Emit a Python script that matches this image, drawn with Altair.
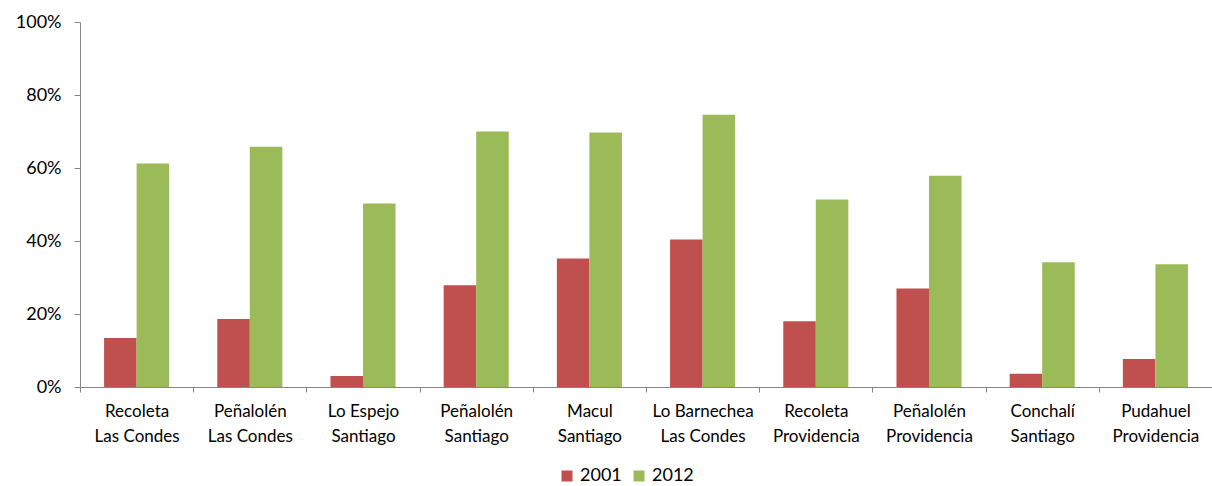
import altair as alt
import pandas as pd

# Commune pairs and share (%) for each year
categories = [
    "Recoleta\nLas Condes",
    "Peñalolén\nLas Condes",
    "Lo Espejo\nSantiago",
    "Peñalolén\nSantiago",
    "Macul\nSantiago",
    "Lo Barnechea\nLas Condes",
    "Recoleta\nProvidencia",
    "Peñalolén\nProvidencia",
    "Conchalí\nSantiago",
    "Pudahuel\nProvidencia",
]
v2001 = [13.4, 18.6, 3.0, 27.9, 35.2, 40.4, 18.0, 27.0, 3.6, 7.7]
v2012 = [61.2, 65.8, 50.3, 70.0, 69.7, 74.6, 51.4, 57.9, 34.2, 33.6]
years = ["2001", "2012"]
colors = ["#C0504D", "#9BBB59"]

rows = []
for cat, a, b in zip(categories, v2001, v2012):
    rows.append({"par": cat, "year": years[0], "value": a / 100})
    rows.append({"par": cat, "year": years[1], "value": b / 100})
df = pd.DataFrame(rows)

FONT = "Lato"
AXIS_COLOR = "#868686"

chart = (
    alt.Chart(df)
    .mark_bar()
    .encode(
        x=alt.X(
            "par:N",
            sort=categories,
            scale=alt.Scale(paddingInner=0, paddingOuter=0),
            axis=alt.Axis(
                title=None,
                labelAngle=0,
                labelExpr="split(datum.label, '\\n')",
                labelLineHeight=25,
                labelFontSize=17,
                labelColor="#000000",
                labelPadding=11,
                tickBand="extent",
                tickSize=5,
                tickColor=AXIS_COLOR,
                domainColor=AXIS_COLOR,
                labelFont=FONT,
            ),
        ),
        xOffset=alt.XOffset(
            "year:N",
            sort=years,
            scale=alt.Scale(paddingInner=0, paddingOuter=0.74),
        ),
        y=alt.Y(
            "value:Q",
            scale=alt.Scale(domain=[0, 1]),
            axis=alt.Axis(
                title=None,
                format=".0%",
                values=[0, 0.2, 0.4, 0.6, 0.8, 1.0],
                grid=False,
                tickSize=6,
                tickColor=AXIS_COLOR,
                domainColor=AXIS_COLOR,
                labelFontSize=18,
                labelColor="#000000",
                labelPadding=13,
                labelFont=FONT,
            ),
        ),
        color=alt.Color(
            "year:N",
            sort=years,
            scale=alt.Scale(domain=years, range=colors),
            legend=alt.Legend(
                title=None,
                orient="none",
                direction="horizontal",
                legendX=478,
                legendY=445,
                symbolType="square",
                symbolSize=121,
                symbolStrokeWidth=0,
                labelFontSize=18,
                labelFont=FONT,
                labelColor="#000000",
                columnPadding=8,
                labelOffset=4,
            ),
        ),
    )
    .properties(
        width=1132,
        height=365,
        padding={"left": 80, "top": 22, "right": 0, "bottom": 99},
        autosize=alt.AutoSizeParams(type="none"),
        background="#ffffff",
    )
    .configure_view(stroke=None)
)

chart.save("out.html", embed_options={"renderer": "svg", "actions": False})
